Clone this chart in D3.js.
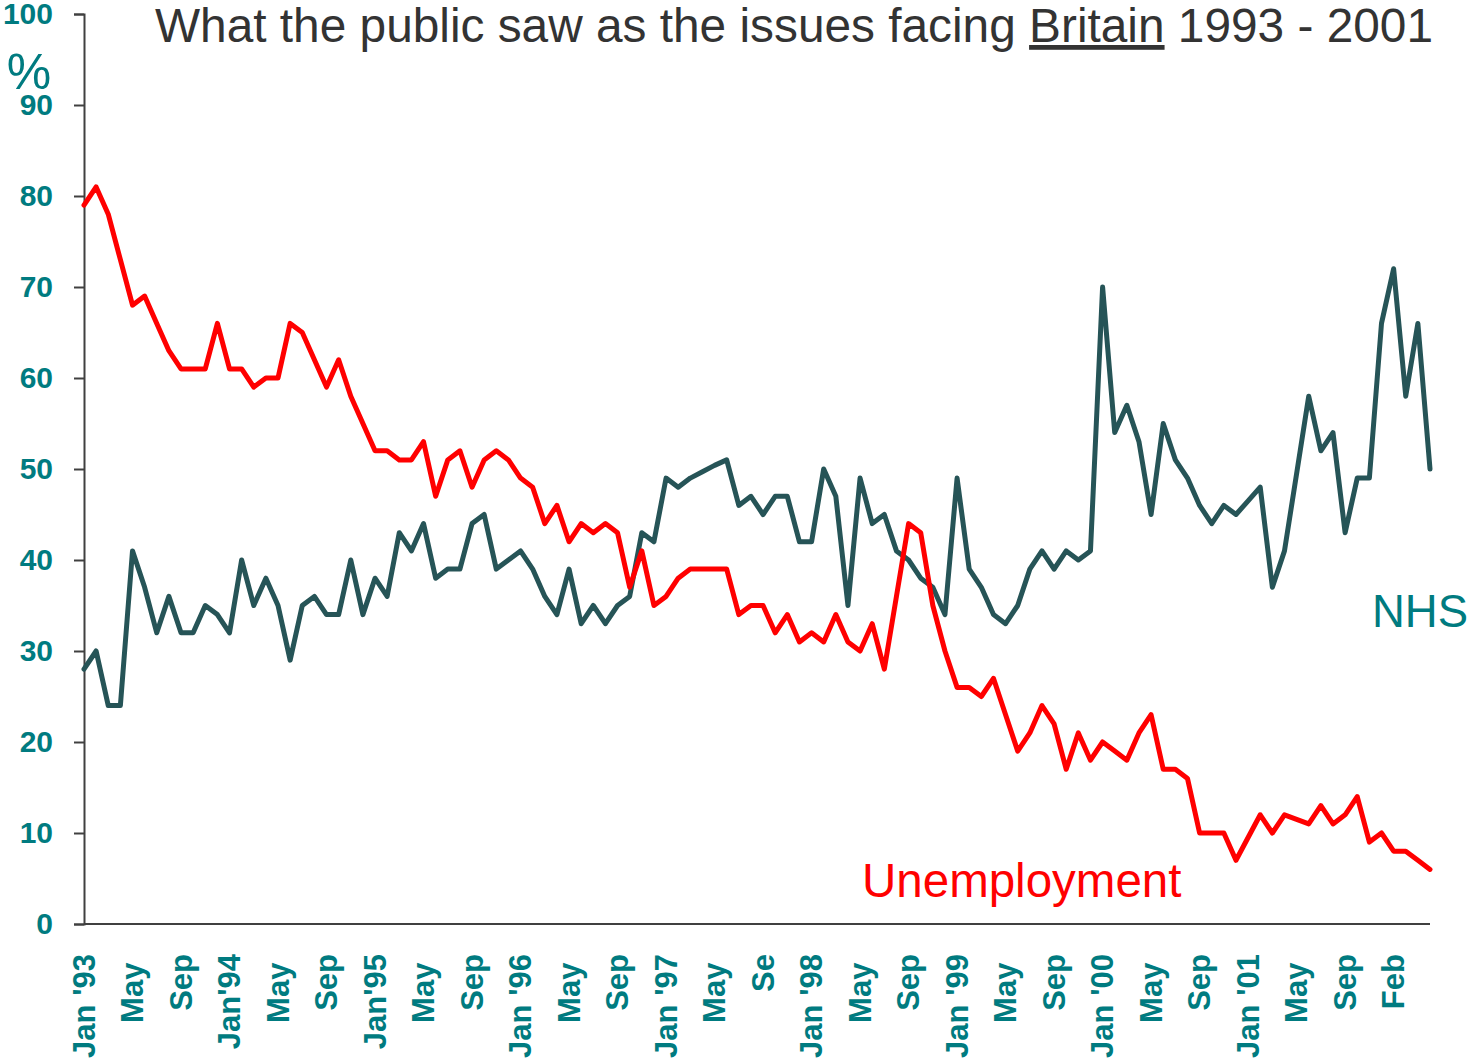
<!DOCTYPE html>
<html>
<head>
<meta charset="utf-8">
<script src="https://cdn.jsdelivr.net/npm/d3@7"></script>
<style>
  body{margin:0;background:#fff;}
</style>
</head>
<body>
<div id="chart"></div>
<script>
// poll readings, one per survey from Jan '93, % naming the issue
var unemployment = [79,81,78,73,68,69,66,63,61,61,61,66,61,61,59,60,60,66,65,62,
    59,62,58,55,52,52,51,51,53,47,51,52,48,51,52,51,49,48,44,46,
    42,44,43,44,43,37,41,35,36,38,39,39,39,39,34,35,35,32,34,31,
    32,31,34,31,30,33,28,36,44,43,35,30,26,26,25,27,23,19,21,24,
    22,17,21,18,20,19,18,21,23,17,17,16,10,10,10,7,9.5,12,10,12,
    11.5,11,13,11,12,14,9,10,8,8,7,6];
var nhs = [28,30,24,24,41,37,32,36,32,32,35,34,32,40,35,38,35,29,35,36,
    34,34,40,34,38,36,43,41,44,38,39,39,44,45,39,40,41,39,36,34,
    39,33,35,33,35,36,43,42,49,48,49,49.7,50.4,51,46,47,45,47,47,42,
    42,50,47,35,49,44,45,41,40,38,37,34,49,39,37,34,33,35,39,41,
    39,41,40,41,70,54,57,53,45,55,51,49,46,44,46,45,46.5,48,37,41,
    49.5,58,52,54,43,49,49,66,72,58,66,50];
// a label every 4th survey (the May ones carry a trailing space)
var tickLabels = ["Jan '93","May ","Sep","Jan'94","May ","Sep","Jan'95","May ","Sep",
    "Jan '96","May ","Sep","Jan '97","May ","Se","Jan '98","May ","Sep",
    "Jan '99","May ","Sep","Jan '00","May ","Sep","Jan '01","May ","Sep","Feb"];
var yTicks = [0,10,20,30,40,50,60,70,80,90,100];

var width = 1470;
var height = 1062;
var teal = "#007b80";
var svg = d3.select("#chart")
    .append("svg")
    .attr("width",width)
    .attr("height",height)
    .attr("font-family","'Liberation Sans',Arial,sans-serif");

var x = d3.scaleLinear()
    .domain([0,unemployment.length-1])
    .range([84,1430]);
var y = d3.scaleLinear()
    .domain([0,100])
    .range([924,14]);

// y axis
var yAxis = svg.append("g")
    .attr("transform","translate(84,0)")
    .call(d3.axisLeft(y).tickValues(yTicks).tickSize(10).tickPadding(21));
yAxis.select(".domain").attr("stroke","#404040").attr("stroke-width",2);
yAxis.selectAll(".tick line").attr("stroke","#404040").attr("stroke-width",2);
yAxis.selectAll(".tick text")
    .attr("fill",teal)
    .attr("font-size",30)
    .attr("font-weight","bold")
    .attr("font-family","'Liberation Sans',Arial,sans-serif");

// x axis line
svg.append("line")
    .attr("x1",x(0))
    .attr("x2",x(unemployment.length-1))
    .attr("y1",y(0))
    .attr("y2",y(0))
    .attr("stroke","#404040")
    .attr("stroke-width",2);

svg.append("g")
    .selectAll("text")
    .data(tickLabels)
    .enter()
    .append("text")
    .attr("transform",(d,i)=>"translate("+x(i*4)+",954)rotate(-90)")
    .attr("text-anchor","end")
    .attr("dy","0.35em")
    .attr("fill",teal)
    .attr("font-size",31)
    .attr("font-weight","bold")
    .style("white-space","pre")
    .text(d=>d);

var line = d3.line()
    .x((d,i)=>x(i))
    .y(d=>y(d));

svg.append("path")
    .datum(nhs)
    .attr("fill","none")
    .attr("stroke","#265457")
    .attr("stroke-width",5)
    .attr("stroke-linejoin","round")
    .attr("stroke-linecap","round")
    .attr("d",line);

svg.append("path")
    .datum(unemployment)
    .attr("fill","none")
    .attr("stroke","#ff0000")
    .attr("stroke-width",5)
    .attr("stroke-linejoin","round")
    .attr("stroke-linecap","round")
    .attr("d",line);

// labels
svg.append("text")
    .attr("x",29)
    .attr("y",89)
    .attr("text-anchor","middle")
    .attr("fill",teal)
    .attr("font-size",50)
    .text("%");

var title = svg.append("text")
    .attr("x",155)
    .attr("y",42)
    .attr("fill","#333333")
    .attr("font-size",47.8);
title.append("tspan").text("What the public saw as the issues facing ");
title.append("tspan").style("text-decoration","underline").text("Britain");
title.append("tspan").text(" 1993 - 2001");

svg.append("text")
    .attr("x",1372)
    .attr("y",627)
    .attr("fill",teal)
    .attr("font-size",45.5)
    .text("NHS");

svg.append("text")
    .attr("x",862)
    .attr("y",897)
    .attr("fill","#ff0000")
    .attr("font-size",47.5)
    .text("Unemployment");
</script>
</body>
</html>
